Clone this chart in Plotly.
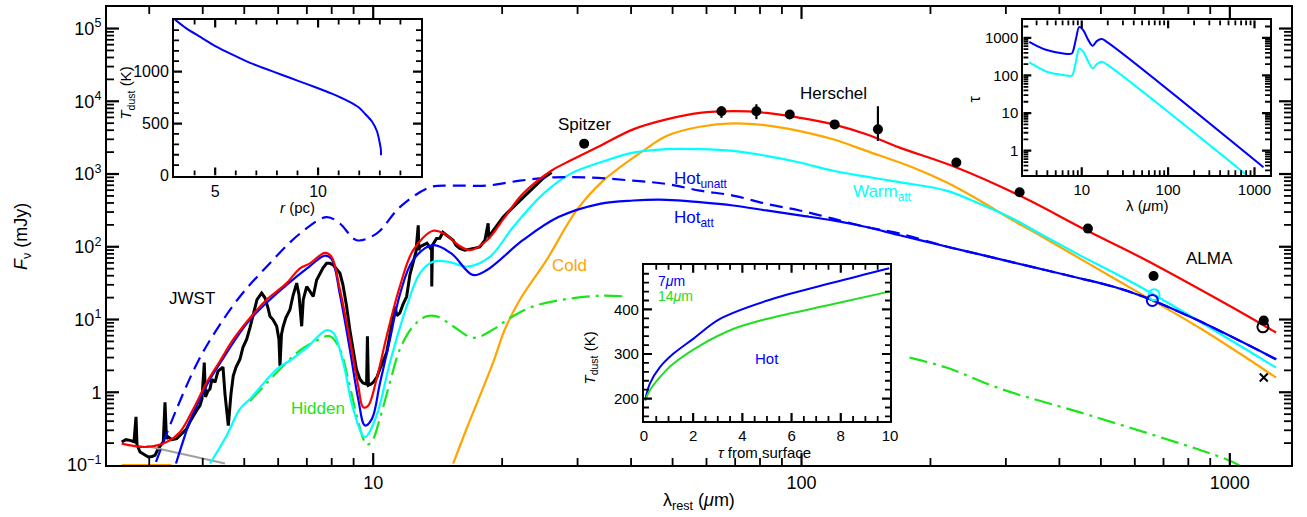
import numpy as np
import plotly.graph_objects as go

FONT = "Liberation Sans, Arial, Helvetica, sans-serif"
BLUE = "#0000ff"; RED = "#ff0000"; CYAN = "#00ffff"; ORANGE = "#ffa500"
GREEN = "#19e619"; GRAY = "#a0a0a0"

# ---------------- main SED data (lambda_rest in micron, F_nu in mJy) ----------------
jwst_lam = [2.587, 2.647, 2.705, 2.764, 2.794, 2.809, 2.855, 2.917, 2.985, 3.044, 3.094, 3.149, 3.195, 3.235,
            3.265, 3.291, 3.323, 3.389, 3.476, 3.557, 3.668, 3.734, 3.802, 3.877, 3.940, 3.983, 4.033, 4.059,
            4.114, 4.158, 4.203, 4.272, 4.341, 4.388, 4.460, 4.508, 4.589, 4.655, 4.713, 4.782, 4.886, 4.965,
            5.064, 5.156, 5.248, 5.354, 5.490, 5.588, 5.679, 5.740, 5.834, 5.952, 6.025, 6.058, 6.107, 6.166,
            6.256, 6.393, 6.497, 6.627, 6.710, 6.808, 6.866, 6.993, 7.078, 7.244, 7.378, 7.510, 7.632, 7.785,
            7.925, 8.068, 8.185, 8.363, 8.499, 8.669, 8.821, 8.980, 9.136, 9.311, 9.462, 9.652, 9.694, 9.746,
            9.877, 10.0, 10.20, 10.36, 10.53, 10.75, 10.94, 11.12, 11.24, 11.36, 11.54, 11.73, 11.97, 12.18,
            12.40, 12.58, 12.74, 12.78, 12.85, 13.08, 13.35, 13.69, 13.70, 13.75, 14.06, 14.31, 14.54, 14.84,
            15.10, 15.37, 15.60, 15.93, 16.37, 16.82, 17.27, 17.74, 18.23, 18.55, 18.62, 18.72, 19.23, 19.76,
            20.11, 20.84, 22.00, 22.96, 24.06, 25.02, 26.09]
jwst_f = [0.207, 0.223, 0.218, 0.209, 0.459, 0.190, 0.151, 0.139, 0.129, 0.131, 0.136, 0.168, 0.190, 0.207,
          0.728, 0.230, 0.243, 0.223, 0.230, 0.261, 0.315, 0.392, 0.478, 0.572, 0.654, 0.808, 2.56, 0.860,
          1.04, 1.11, 1.51, 1.37, 1.95, 2.07, 2.21, 0.945, 0.349, 0.945, 1.68, 2.21, 2.84, 4.14,
          5.32, 7.75, 12.3, 18.7, 23.1, 19.9, 14.5, 11.1, 9.97, 8.08, 5.32, 2.30, 6.22, 8.08,
          10.6, 13.7, 21.2, 31.6, 21.9, 8.08, 18.7, 28.4, 25.6, 20.7, 35.0, 43.2, 51.1, 59.2,
          59.2, 56.1, 51.1, 43.2, 29.9, 15.1, 7.15, 3.50, 2.07, 1.51, 1.34, 1.29, 5.90, 1.25,
          1.29, 1.37, 1.61, 2.07, 2.67, 3.50, 6.22, 10.6, 15.1, 11.3, 12.3, 16.0, 20.7, 41.0,
          59.2, 84.4, 197, 89.9, 99.7, 105, 112, 89.9, 28.4, 105, 130, 131, 158, 144,
          135, 123, 105, 94.8, 89.9, 91.9, 95.7, 99.7, 123, 210, 131, 144, 179, 217,
          256, 316, 432, 556, 731, 890, 1050]

total_lam = [2.587, 2.959, 3.295, 3.539, 3.802, 4.085, 4.388, 4.713, 5.156, 5.638, 6.280, 6.745, 7.117, 7.715,
             7.997, 8.363, 8.821, 9.226, 9.478, 9.734, 10.18, 10.75, 11.54, 12.40, 13.79, 14.64, 15.82, 16.82,
             18.44, 20.29, 22.35, 26.05, 28.78, 33.82, 40.45, 48.39, 57.85, 69.22, 82.80, 99.04, 118.5, 141.7,
             169.5, 229.9, 323.0, 462.3, 615.6, 971.8, 1282]
total_f = [0.1965, 0.177, 0.207, 0.284, 0.590, 1.365, 2.69, 5.32, 10.5, 18.7, 31.6, 50.6, 59.2, 82.6,
           72.8, 25.6, 5.32, 1.227, 0.622, 0.654, 1.513, 5.90, 28.4, 89.9, 165.8, 151.9, 105.1, 89.9,
           123.0, 255.8, 533.5, 1109, 1519, 2433, 4111, 5627, 6924, 7304, 6924, 5919, 4810, 3513,
           2307, 1230, 505.8, 168.5, 72.81, 16.84, 6.63]

hot_att_lam = [3.464, 3.596, 3.734, 3.940, 4.158, 4.388, 5.156, 6.280, 7.117, 7.715, 7.997, 8.363, 8.821, 9.226,
               9.565, 9.931, 10.36, 10.94, 11.54, 12.39, 13.79, 15.22, 17.08, 18.44, 22.35, 27.07, 33.82, 40.45,
               48.39, 57.85, 69.22, 82.80, 99.04, 118.5, 141.7, 169.5, 217.8, 260.6, 311.6, 372.8, 445.9, 533.3,
               626.6, 835.0, 1283]
hot_att_f = [0.1048, 0.209, 0.405, 0.808, 1.513, 2.502, 9.97, 29.94, 54.37, 75.6, 67.7, 21.86, 3.885, 0.808,
             0.349, 0.431, 1.294, 5.318, 21.86, 65.65, 105.1, 81.0, 41.0, 47.95, 123.0, 255.8, 389.6, 432.3,
             441.9, 409.9, 369.5, 315.7, 269.8, 230.6, 186.8, 143.9, 101, 78.5, 61.1, 47.5, 36.94, 28.38,
             20.73, 9.97, 2.838]

hot_unatt_lam = [3.111, 3.476, 3.904, 4.311, 4.886, 5.638, 6.745, 7.785, 8.363, 9.149, 10.18, 11.54, 13.56, 15.37,
                 18.40, 22.00, 26.31, 31.49, 40.45, 48.39, 57.85, 69.22, 82.80, 99.04, 118.5, 141.7, 169.5, 217.8,
                 260.6, 311.6, 372.8, 445.9, 533.3, 626.6, 835.0, 1283]
hot_unatt_f = [0.1106, 0.590, 2.690, 7.281, 20.73, 53.18, 151.9, 255.8, 208.0, 123.0, 151.9, 350.3, 656.5, 692.4,
               692.4, 810.3, 898.8, 898.8, 810.3, 730.5, 591.9, 505.8, 389.6, 315.7, 243.3, 186.8, 151.9, 101,
               78.5, 61.1, 47.5, 36.94, 28.38, 20.73, 9.97, 2.838]

warm_lam = [4.158, 4.549, 4.886, 5.156, 5.952, 6.451, 6.993, 7.785, 8.068, 8.511, 8.980, 9.565, 10.18, 10.94,
            11.97, 12.85, 13.79, 15.10, 16.52, 18.72, 21.22, 24.94, 28.78, 33.82, 40.45, 48.39, 57.85, 69.22,
            82.80, 99.04, 118.5, 141.7, 169.5, 217.8, 260.6, 311.6, 359.7, 445.9, 615.6, 1281]
warm_f = [0.1048, 0.255, 0.590, 0.808, 2.073, 2.838, 4.099, 7.145, 6.566, 2.558, 0.590, 0.2425, 0.478, 2.558,
          15.14, 43.22, 62.23, 61.66, 53.18, 72.81, 186.8, 533.5, 997.7, 1440, 1971, 2200, 2200, 2079,
          1777, 1440, 1109, 918.9, 773, 591.9, 389.6, 243.3, 151.9, 76.8, 28.38, 2.186]

cold_lam = [15.37, 16.52, 19.05, 20.29, 22.00, 25.39, 29.83, 34.42, 37.64, 42.67, 48.39, 57.85, 69.22, 82.80,
            99.04, 118.5, 141.7, 182.0, 217.8, 260.6, 311.6, 359.7, 445.9, 615.6, 862.1, 1281]
cold_f = [0.1048, 0.3148, 2.558, 7.281, 18.68, 65.65, 315.7, 810.3, 1230, 2079, 3331, 4461, 4964, 4662,
          3896, 3002, 2079, 1230, 768.1, 432.3, 230.6, 143.9, 69.25, 23.07, 7.281, 1.597]

# hidden component (partly behind the lower inset -> gap)
hidden_lam = [5.156, 6.058, 6.745, 7.378, 7.925, 8.363, 8.742, 9.149, 9.478, 9.652, 9.915, 10.36, 10.94, 11.54,
              12.40, 13.32, 14.06, 15.37, 17.12, 19.05, 20.84, 23.63, 28.27, 33.82, 39.03, None,
              178.8, 217.8, 293.0, 473.2, 971.8, 1053]
hidden_f = [0.758, 2.073, 3.764, 5.154, 5.900, 3.885, 1.513, 0.478, 0.2298, 0.1904, 0.2072, 0.431, 1.365, 3.885,
            8.076, 11.06, 11.06, 8.076, 5.61, 7.281, 10.51, 15.14, 19.10, 21.19, 20.73, None,
            2.993, 2.186, 1.106, 0.478, 0.1227, 0.0984]

stellar_lam = [2.959, 4.508]
stellar_f = [0.1827, 0.1048]
cold2_lam = [2.587, 3.38]
cold2_f = [0.1, 0.1]

herschel_lam = [65.03, 78.46, 93.86, 119.5, 150.8, 229.9, 323.0, 466.3]
herschel_f = [7304, 7304, 6585, 4810, 4111, 1440, 561.0, 177.7]
herschel_errp = [1243, 1800, 0, 0, 4436, 0, 0, 0]
herschel_errm = [1385, 1630, 0, 0, 1260, 0, 0, 0]
spitzer_lam = [31.08]
spitzer_f = [2616]
alma_lam = [663.7, 1200]
alma_f = [39.72, 9.66]
alma_open_cyan_lam, alma_open_cyan_f = [665.4], [21.86]
alma_open_blue_lam, alma_open_blue_f = [659.3], [18.28]
alma_open_black_lam, alma_open_black_f = [1194.6], [7.93]
alma_cross_lam, alma_cross_f = [1200], [1.597]

# ---------------- inset data ----------------
r_pc = [3.05, 3.58, 4.23, 5.03, 5.84, 6.64, 7.45, 8.26, 9.06, 9.87, 10.67, 11.48, 11.97, 12.29, 12.61,
        12.86, 12.98, 13.05, 13.06]
t_dust_r = [1500, 1419, 1339, 1243, 1163, 1089, 1027, 967, 909, 850, 788, 714, 657, 592, 522,
            426, 330, 250, 195]

tau_lam = [2.47, 3.01, 3.93, 6.12, 7.66, 8.0, 8.59, 9.38, 10.4, 11.93, 13.4, 14.92, 17.0, 19.5]
tau_hot = [783, 614, 473, 384, 384, 473, 956, 1954, 1600, 869, 614, 818, 925, 783]
tau_hot_end = [1271, 0.364]
tau_warm = [222, 171, 126, 103, 99, 118, 240, 521, 427, 230, 154, 200, 232, 197]
tau_warm_end = [817, 0.223]

tau_s7 = [0.05, 0.24, 0.65, 1.19, 2.0, 3.09, 4.99, 7.70, 9.97]
t_7um = [196, 233.5, 270.5, 300.4, 333.9, 378.6, 419.4, 460.3, 492.4]
tau_s14 = [0.05, 0.24, 0.65, 1.19, 2.28, 3.63, 4.99, 7.70, 9.97]
t_14um = [196, 218.5, 248, 278, 319, 356, 378.6, 412, 440]

main_xticks = [10, 100, 1000]
main_xticktext = ["10", "100", "1000"]
main_yticks = [0.1, 1, 10, 100, 1e3, 1e4, 1e5]
main_yticktext = ["10<sup>\u22121</sup>", "1", "10<sup>1</sup>", "10<sup>2</sup>", "10<sup>3</sup>",
                  "10<sup>4</sup>", "10<sup>5</sup>"]

# ---------------- layout geometry ----------------
W, H = 1307, 517
ML, MR, MT, MB = 107, 16, 5, 52
PW, PH = W - ML - MR, H - MT - MB

XR_MAIN = [0.3785, 3.1428]
YR_MAIN = [-1, 5.296]
DOM = {
    "main": ([0, 1], [0, 1]),
    "in1": ([0.0566, 0.2652], [0.632, 0.9724]),
    "in2": ([0.7739, 0.9823], [0.6326, 0.9711]),
    "in3": ([0.4535, 0.6613], [0.0963, 0.437]),
}
RNG = {
    "main": (XR_MAIN, YR_MAIN, True, True),
    "in1": ([3, 15], [0, 1500], False, False),
    "in2": ([0.3233, 3.18], [-0.653, 3.468], True, True),
    "in3": ([0, 10], [150, 500], False, False),
}
AXID = {"main": ("x", "y"), "in1": ("x2", "y2"), "in2": ("x3", "y3"), "in3": ("x4", "y4")}

fig = go.Figure()


def line(x, y, color, width=2.2, dash=None, xa="x", ya="y", shape="linear", smooth=1.0):
    ln = dict(color=color, width=width, dash=dash, shape=shape)
    if shape == "spline":
        ln["smoothing"] = smooth
    fig.add_trace(go.Scatter(x=x, y=y, mode="lines", xaxis=xa, yaxis=ya, showlegend=False,
                             hoverinfo="skip", connectgaps=False, line=ln))


line(jwst_lam, jwst_f, "black", width=3)
line(stellar_lam, stellar_f, GRAY, width=2)
line(cold2_lam, cold2_f, ORANGE, width=2)
line(cold_lam, cold_f, ORANGE, shape="spline")
line(hidden_lam, hidden_f, GREEN, dash="18px,6px,3px,6px", shape="spline")
line(warm_lam, warm_f, CYAN, shape="spline")
line(hot_unatt_lam, hot_unatt_f, BLUE, dash="13px,7px", shape="spline")
line(hot_att_lam, hot_att_f, BLUE, shape="spline")
line(total_lam, total_f, RED, shape="spline")

fig.add_trace(go.Scatter(x=herschel_lam, y=herschel_f, mode="markers", showlegend=False, hoverinfo="skip",
                         marker=dict(color="black", size=10),
                         error_y=dict(type="data", symmetric=False, array=herschel_errp,
                                      arrayminus=herschel_errm, color="black", thickness=2.2, width=0)))
fig.add_trace(go.Scatter(x=spitzer_lam, y=spitzer_f, mode="markers", showlegend=False, hoverinfo="skip",
                         marker=dict(color="black", size=10)))
fig.add_trace(go.Scatter(x=alma_lam, y=alma_f, mode="markers", showlegend=False, hoverinfo="skip",
                         marker=dict(color="black", size=10)))
for lx, ly, c in [(alma_open_cyan_lam, alma_open_cyan_f, CYAN), (alma_open_blue_lam, alma_open_blue_f, BLUE),
                  (alma_open_black_lam, alma_open_black_f, "black")]:
    fig.add_trace(go.Scatter(x=lx, y=ly, mode="markers", showlegend=False, hoverinfo="skip",
                             marker=dict(symbol="circle-open", color=c, size=11, line=dict(width=2, color=c))))
fig.add_trace(go.Scatter(x=alma_cross_lam, y=alma_cross_f, mode="markers", showlegend=False, hoverinfo="skip",
                         marker=dict(symbol="x-thin-open", color="black", size=8, line=dict(width=2, color="black"))))

# insets
line(r_pc, t_dust_r, BLUE, width=2, xa="x2", ya="y2", shape="spline", smooth=0.6)
line(tau_lam + [tau_hot_end[0]], tau_hot + [tau_hot_end[1]], BLUE, width=2, xa="x3", ya="y3", shape="spline")
line(tau_lam + [tau_warm_end[0]], tau_warm + [tau_warm_end[1]], CYAN, width=2, xa="x3", ya="y3", shape="spline")
line(tau_s7, t_7um, BLUE, width=2, xa="x4", ya="y4", shape="spline")
line(tau_s14, t_14um, "#22dd22", width=2, xa="x4", ya="y4", shape="spline")


# ---------------- axes ----------------
def ax(**kw):
    d = dict(showline=True, linecolor="black", linewidth=2, mirror=True, ticks="",
             showgrid=False, zeroline=False, tickmode="array")
    d.update(kw)
    return d


layout_axes = dict(
    xaxis=ax(type="log", range=XR_MAIN, domain=DOM["main"][0], anchor="y",
             tickvals=main_xticks, ticktext=main_xticktext, tickfont=dict(size=18)),
    yaxis=ax(type="log", range=YR_MAIN, domain=DOM["main"][1], anchor="x",
             tickvals=main_yticks, ticktext=main_yticktext, tickfont=dict(size=18)),
    xaxis2=ax(range=RNG["in1"][0], domain=DOM["in1"][0], anchor="y2", tickvals=[5, 10],
              ticktext=["5", "10"], tickfont=dict(size=16)),
    yaxis2=ax(range=RNG["in1"][1], domain=DOM["in1"][1], anchor="x2",
              tickvals=[0, 500, 1000], ticktext=["0", "500", "1000"], tickfont=dict(size=16)),
    xaxis3=ax(type="log", range=RNG["in2"][0], domain=DOM["in2"][0], anchor="y3",
              tickvals=[10, 100, 1000], ticktext=["10", "100", "1000"], tickfont=dict(size=15)),
    yaxis3=ax(type="log", range=RNG["in2"][1], domain=DOM["in2"][1], anchor="x3",
              tickvals=[1, 10, 100, 1000], ticktext=["1", "10", "100", "1000"], tickfont=dict(size=15)),
    xaxis4=ax(range=RNG["in3"][0], domain=DOM["in3"][0], anchor="y4",
              tickvals=[0, 2, 4, 6, 8, 10], ticktext=["0", "2", "4", "6", "8", "10"], tickfont=dict(size=15)),
    yaxis4=ax(range=RNG["in3"][1], domain=DOM["in3"][1], anchor="x4",
              tickvals=[200, 300, 400], ticktext=["200", "300", "400"], tickfont=dict(size=15)),
)


def log_minor(lo_exp, hi_exp):
    return [k * 10.0 ** e for e in range(lo_exp, hi_exp + 1) for k in range(2, 10)]


TICKS = {
    "main": ([10, 100, 1000], log_minor(0, 3), main_yticks, log_minor(-1, 5), 12, 7),
    "in1": ([5, 10], [v for v in range(3, 16) if v % 5], [500, 1000],
            [v for v in range(100, 1500, 100) if v % 500], 8, 5),
    "in2": ([10, 100, 1000], log_minor(0, 3), [1, 10, 100, 1000], log_minor(-1, 3), 8, 5),
    "in3": ([2, 4, 6, 8], [i * 0.5 for i in range(1, 20) if i % 4], [200, 300, 400],
            [v for v in range(160, 500, 20) if v % 100], 8, 5),
}


def to_data(t, islog):
    return 10.0 ** t if islog else t


# tick marks drawn in each panel's own coordinates (inward, on all four sides)
for key, (xmaj, xmin, ymaj, ymin, lmaj, lmin) in TICKS.items():
    (dx0, dx1), (dy0, dy1) = DOM[key]
    xr, yr, xlog, ylog = RNG[key]
    xa, ya = AXID[key]
    wpx, hpx = (dx1 - dx0) * PW, (dy1 - dy0) * PH
    for kind, xv, yv, L, wd in (("maj", xmaj, ymaj, lmaj, 2.2), ("min", xmin, ymin, lmin, 1.8)):
        xs, ys = [], []
        dy = L / hpx * (yr[1] - yr[0])
        dx = L / wpx * (xr[1] - xr[0])
        for v in xv:
            t = np.log10(v) if xlog else v
            if not (xr[0] < t < xr[1]):
                continue
            xs += [v, v, None, v, v, None]
            ys += [to_data(yr[0], ylog), to_data(yr[0] + dy, ylog), None,
                   to_data(yr[1], ylog), to_data(yr[1] - dy, ylog), None]
        for v in yv:
            t = np.log10(v) if ylog else v
            if not (yr[0] < t < yr[1]):
                continue
            xs += [to_data(xr[0], xlog), to_data(xr[0] + dx, xlog), None,
                   to_data(xr[1], xlog), to_data(xr[1] - dx, xlog), None]
            ys += [v, v, None, v, v, None]
        fig.add_trace(go.Scatter(x=xs, y=ys, mode="lines", xaxis=xa, yaxis=ya, showlegend=False,
                                 hoverinfo="skip", connectgaps=False, line=dict(color="black", width=wd)))

# text labels on main plot
label_text = ["JWST", "Hidden", "Spitzer", "Herschel", "Cold", "ALMA"]
label_lam = [3.77, 7.44, 31.1, 118.9, 28.8, 897]
label_f = [19.7, 0.59, 4810, 12600, 56, 70]
label_col = ["black", GREEN, "black", "black", ORANGE, "black"]
sub_text = ["Hot<sub>unatt</sub>", "Warm<sub>att</sub>", "Hot<sub>att</sub>"]
sub_lam = [49.8, 130.3, 49.8]
sub_f = [836, 556, 238]
sub_col = [BLUE, CYAN, BLUE]

ann = []
for t, lx, ly, c in zip(label_text, label_lam, label_f, label_col):
    ann.append(dict(text=t, x=np.log10(lx), y=np.log10(ly), xref="x", yref="y", showarrow=False,
                    font=dict(size=17, color=c), xanchor="center", yanchor="middle"))
for t, lx, ly, c in zip(sub_text, sub_lam, sub_f, sub_col):
    ann.append(dict(text=t, x=np.log10(lx), y=np.log10(ly), xref="x", yref="y", showarrow=False,
                    font=dict(size=17, color=c), xanchor="left", yanchor="middle"))

# inset-3 labels
ann.append(dict(text="7<i>\u03bc</i>m", x=0.5, y=463, xref="x4", yref="y4", showarrow=False,
                font=dict(size=14, color=BLUE), xanchor="left", yanchor="middle"))
ann.append(dict(text="14<i>\u03bc</i>m", x=0.5, y=430, xref="x4", yref="y4", showarrow=False,
                font=dict(size=14, color="#22dd22"), xanchor="left", yanchor="middle"))
ann.append(dict(text="Hot", x=5.0, y=289, xref="x4", yref="y4", showarrow=False,
                font=dict(size=15, color=BLUE), xanchor="center", yanchor="middle"))

# axis titles
titles = [
    ("<i>F</i><sub>\u03bd</sub> (mJy)", -0.0718, 0.5, -90, 18),
    ("\u03bb<sub>rest</sub> (<i>\u03bc</i>m)", 0.5, -0.08, 0, 18),
    ("<i>T</i><sub>dust</sub> (K)", 0.0169, 0.811, -90, 15),
    ("<i>r</i> (pc)", 0.1605, 0.562, 0, 15),
    ("\u03c4", 0.733, 0.80, -90, 16),
    ("\u03bb (<i>\u03bc</i>m)", 0.878, 0.566, 0, 15),
    ("<i>T</i><sub>dust</sub> (K)", 0.408, 0.2326, -90, 15),
    ("<i>\u03c4</i> from surface", 0.5557, 0.028, 0, 15),
]
for t, x, y, ang, s in titles:
    ann.append(dict(text=t, x=x, y=y, xref="paper", yref="paper", showarrow=False, textangle=ang,
                    font=dict(size=s, color="black"), xanchor="center", yanchor="middle"))

fig.update_layout(width=W, height=H, margin=dict(l=ML, r=MR, t=MT, b=MB),
                  paper_bgcolor="white", plot_bgcolor="white", showlegend=False,
                  font=dict(family=FONT, color="black", size=17), annotations=ann,
                  **layout_axes)

fig.write_html("out.html")
